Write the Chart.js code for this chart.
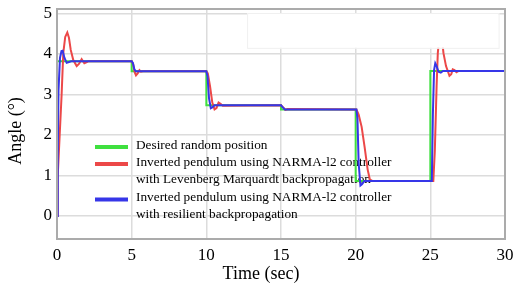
<!DOCTYPE html>
<html>
<head>
<meta charset="utf-8">
<script src="https://cdn.jsdelivr.net/npm/chart.js@4.4.1/dist/chart.umd.min.js"></script>
<style>
  html, body { margin: 0; padding: 0; background: #fff; }
  #wrap { width: 513px; height: 284px; position: relative; }
</style>
</head>
<body>
<div id="wrap"><canvas id="chart"></canvas></div>
<script>
// --- data ---
const xTickValues = [0, 5, 10, 15, 20, 25, 30];
const yTickValues = [0, 1, 2, 3, 4, 5];

// desired random position (step reference)
const timeDesired  = [0, 0, 5, 5, 10, 10, 15, 15, 20, 20, 25, 25, 30];
const angleDesired = [0, 3.82, 3.82, 3.57, 3.57, 2.73, 2.73, 2.63, 2.63, 0.86, 0.86, 3.58, 3.58];

// Levenberg Marquardt backpropagation (red)
const timeLM  = [0, 0.05, 0.18, 0.31, 0.42, 0.55, 0.69, 0.8, 0.92, 1.09, 1.32, 1.48, 1.65, 1.83, 2.0, 2.1,
                 5.0, 5.1, 5.2, 5.29, 5.4, 5.52, 5.62, 5.75,
                 10.0, 10.1, 10.25, 10.4, 10.55, 10.68, 10.82, 10.95, 11.1,
                 15.0, 15.15, 15.3, 15.45,
                 20.05, 20.2, 20.4, 20.6, 20.8, 20.95, 21.05, 21.15,
                 25.2, 25.3, 25.42, 25.5, 25.6, 25.7, 25.8, 25.88, 26.05, 26.28, 26.4, 26.5, 26.62, 26.75, 26.9, 30];
const angleLM = [0, 1.0, 2.0, 3.0, 4.02, 4.42, 4.53, 4.4, 4.1, 3.85, 3.7, 3.76, 3.87, 3.77, 3.8, 3.82,
                 3.82, 3.75, 3.55, 3.47, 3.52, 3.6, 3.56, 3.57,
                 3.57, 3.52, 3.2, 2.8, 2.63, 2.66, 2.8, 2.77, 2.72,
                 2.73, 2.68, 2.62, 2.64,
                 2.63, 2.5, 2.2, 1.7, 1.15, 0.9, 0.88, 0.86,
                 0.86, 1.6, 3.2, 4.02, 4.4, 4.5, 4.3, 4.02, 3.7, 3.46, 3.5, 3.62, 3.6, 3.55, 3.58, 3.58];

// resilient backpropagation (blue)
const timeRP  = [0, 0.05, 0.1, 0.2, 0.3, 0.38, 0.5, 0.65, 0.8, 0.95,
                 5.0, 5.08, 5.18, 5.28,
                 10.0, 10.08, 10.18, 10.3, 10.4, 10.55,
                 15.0, 15.12, 15.25,
                 20.05, 20.12, 20.2, 20.32, 20.42, 20.58,
                 25.1, 25.17, 25.25, 25.33, 25.42, 25.55, 25.7, 25.85, 30];
const angleRP = [0, 1.5, 3.1, 3.9, 4.07, 4.08, 3.9, 3.78, 3.8, 3.82,
                 3.82, 3.78, 3.62, 3.57,
                 3.57, 3.45, 2.9, 2.66, 2.68, 2.73,
                 2.73, 2.68, 2.63,
                 2.63, 2.4, 1.3, 0.75, 0.78, 0.86,
                 0.86, 2.5, 3.6, 3.77, 3.7, 3.56, 3.54, 3.58, 3.58];

const legendLabels = [
    ['Desired random position'],
    ['Inverted pendulum using NARMA-l2 controller', 'with Levenberg Marquardt backpropagation'],
    ['Inverted pendulum using NARMA-l2 controller', 'with resilient backpropagation'],
];

const xTitle = 'Time (sec)';
const yTitle = 'Angle (°)';

const SERIF = '"Liberation Serif", "DejaVu Serif", serif';
const GREEN = '#3fe03f';
const RED = '#ec4848';
const BLUE = '#3636e8';

const toPoints = (xs, ys) => xs.map((x, i) => ({ x, y: ys[i] }));

// border, inline legend, white patch and axis titles
const paperPlugin = {
    id: 'paper',
    beforeDatasetsDraw(chart) {
        const { ctx } = chart;
        const colors = [GREEN, RED, BLUE];
        const rows = [[145.5], [162.5, 180], [198, 215]];
        ctx.save();
        ctx.font = '13.3px ' + SERIF;
        ctx.fillStyle = '#000';
        ctx.textBaseline = 'middle';
        legendLabels.forEach((lines, i) => {
            ctx.strokeStyle = colors[i];
            ctx.lineWidth = 4;
            ctx.beginPath();
            ctx.moveTo(95, rows[i][0] + 1.5);
            ctx.lineTo(128, rows[i][0] + 1.5);
            ctx.stroke();
            lines.forEach((txt, j) => ctx.fillText(txt, 136, rows[i][j]));
        });
        ctx.restore();
    },
    afterDatasetsDraw(chart) {
        const { ctx, chartArea: a, scales: { x, y } } = chart;
        ctx.save();
        // white patch over the upper right corner
        const px0 = x.getPixelForValue(12.73), px1 = x.getPixelForValue(29.57);
        const py0 = y.getPixelForValue(5.01), py1 = y.getPixelForValue(4.15);
        ctx.fillStyle = '#fff';
        ctx.fillRect(px0, py0, px1 - px0, py1 - py0);
        ctx.strokeStyle = '#f0f0f0';
        ctx.lineWidth = 1;
        ctx.strokeRect(px0 + 0.5, py0 + 0.5, px1 - px0, py1 - py0);
        // frame
        ctx.strokeStyle = '#ababab';
        ctx.lineWidth = 2;
        ctx.strokeRect(a.left, a.top, a.right - a.left, a.bottom - a.top);
        ctx.restore();
    },
    afterDraw(chart) {
        const { ctx } = chart;
        ctx.save();
        ctx.fillStyle = '#000';
        ctx.font = '18px ' + SERIF;
        ctx.textAlign = 'center';
        ctx.textBaseline = 'alphabetic';
        ctx.fillText(xTitle, 261, 279);
        ctx.translate(21, 131);
        ctx.rotate(-Math.PI / 2);
        ctx.fillText(yTitle, 0, 0);
        ctx.restore();
    }
};

new Chart(document.getElementById('chart'), {
    type: 'line',
    data: {
        datasets: [
            { label: 'Desired', data: toPoints(timeDesired, angleDesired), borderColor: GREEN, order: 3 },
            { label: 'LM', data: toPoints(timeLM, angleLM), borderColor: RED, order: 2 },
            { label: 'RP', data: toPoints(timeRP, angleRP), borderColor: BLUE, order: 1 },
        ]
    },
    options: {
        responsive: true,
        maintainAspectRatio: false,
        animation: false,
        layout: { padding: 0 },
        elements: {
            line: { borderWidth: 2, tension: 0, fill: false },
            point: { radius: 0 }
        },
        plugins: { legend: { display: false }, tooltip: { enabled: false } },
        scales: {
            x: {
                type: 'linear',
                min: 0,
                max: 30,
                afterBuildTicks: axis => { axis.ticks = xTickValues.map(v => ({ value: v })); },
                afterFit: scale => {
                    scale.height = 45;
                    scale.paddingLeft = 0;
                    scale.paddingRight = 8;
                },
                grid: { color: '#dcdcdc', lineWidth: 1.5, drawTicks: false },
                border: { display: false },
                ticks: { color: '#000', font: { family: SERIF, size: 17 }, padding: 6, maxRotation: 0 }
            },
            y: {
                min: -0.57,
                max: 5.11,
                afterBuildTicks: axis => { axis.ticks = yTickValues.map(v => ({ value: v })); },
                afterFit: scale => {
                    scale.width = 57;
                    scale.paddingTop = 9;
                    scale.paddingBottom = 0;
                },
                grid: { color: '#dcdcdc', lineWidth: 1.5, drawTicks: false },
                border: { display: false },
                ticks: { color: '#000', font: { family: SERIF, size: 17 }, padding: 5 }
            }
        }
    },
    plugins: [paperPlugin]
});
</script>
</body>
</html>
